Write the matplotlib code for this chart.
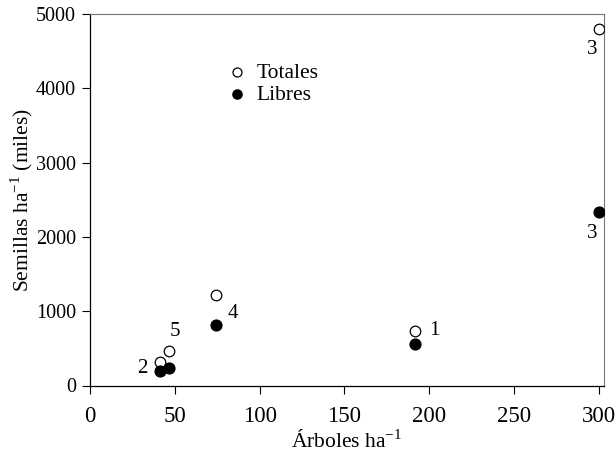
import matplotlib
matplotlib.use("Agg")
import matplotlib.pyplot as plt

plt.rcParams['font.family'] = ['Liberation Serif', 'DejaVu Serif']
plt.rcParams['mathtext.fontset'] = 'custom'
plt.rcParams['mathtext.rm'] = 'Liberation Serif'

arboles = [191.5, 41.5, 300, 74.5, 46.5]
totales = [740, 310, 4800, 1215, 470]
libres = [560, 200, 2330, 820, 240]
sitios = ["1", "2", "3", "4", "5"]

# label positions (data coords) for the site numbers
lab_tot = {"3": (296, 4520)}
lab_lib = {"1": (203, 740), "2": (31, 230), "3": (296, 2040), "4": (84.5, 965), "5": (50, 725)}

fig = plt.figure(figsize=(6.15, 4.57), dpi=100)
ax = fig.add_axes([90/615, 1-385.5/457, (604-90)/615, (385.5-14)/457])

ax.scatter(arboles, totales, s=58, facecolors='white', edgecolors='black', linewidths=0.9,
           label='Totales', zorder=3)
ax.scatter(arboles, libres, s=62, facecolors='black', edgecolors='black', linewidths=0.9,
           label='Libres', zorder=3)

for k, (x, y) in lab_tot.items():
    ax.text(x, y, k, fontsize=15, ha='center', va='center')
for k, (x, y) in lab_lib.items():
    ax.text(x, y, k, fontsize=15, ha='center', va='center')

ax.set_xlim(0, 303)
ax.set_ylim(0, 5000)
ax.set_xticks([0, 50, 100, 150, 200, 250, 300])
ax.set_yticks([0, 1000, 2000, 3000, 4000, 5000])
ax.tick_params(direction='out', length=6, width=0.8)
ax.tick_params(axis='x', labelsize=16.5, pad=9)
ax.tick_params(axis='y', labelsize=14.5, pad=4)
for s in ['top', 'right']:
    ax.spines[s].set_color('#777777')
    ax.spines[s].set_linewidth(0.8)
for s in ['left', 'bottom']:
    ax.spines[s].set_linewidth(0.9)

ax.set_xlabel('Árboles ha$^{-1}$', fontsize=15.5, labelpad=2)
ax.set_ylabel('Semillas ha$^{-1}$ (miles)', fontsize=15.5, labelpad=1)

leg = ax.legend(loc='upper left', bbox_to_anchor=(0.248, 0.892), frameon=False,
                fontsize=15.5, handlelength=1.0, handletextpad=0.4, labelspacing=0.1,
                markerscale=0.85, borderaxespad=0)

fig.savefig('out.png', dpi=100)
